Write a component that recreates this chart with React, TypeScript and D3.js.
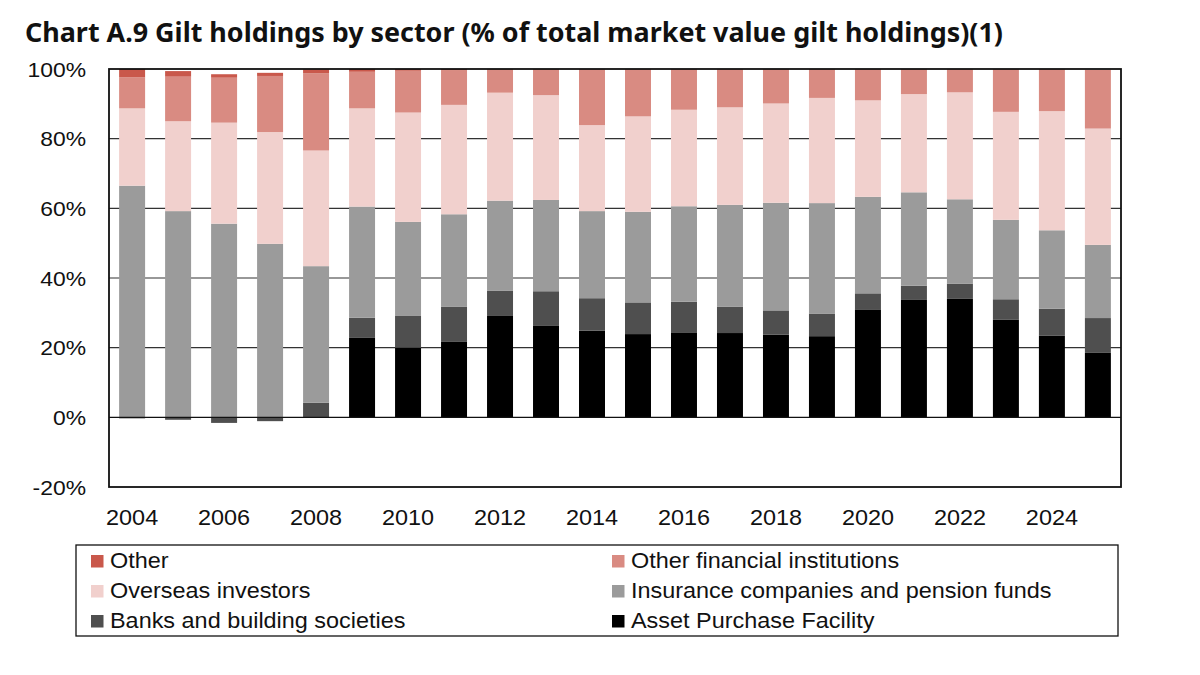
import React from "react";
import * as d3 from "d3";

const years = [2004,2005,2006,2007,2008,2009,2010,2011,2012,2013,2014,2015,2016,2017,2018,2019,2020,2021,2022,2023,2024,2025];
const apf =       [0,0,0,0,0,22.8,20.0,21.8,29.1,26.4,24.9,23.9,24.4,24.2,23.7,23.3,31.0,33.7,34.0,28.1,23.4,18.5];
const banks =     [-0.3,-0.7,-1.6,-1.1,4.2,5.8,9.1,9.9,7.3,9.8,9.3,9.1,8.8,7.6,7.0,6.5,4.6,4.1,4.4,5.8,7.8,10.0];
const insurance = [66.5,59.2,55.6,49.8,39.2,31.9,27.0,26.6,25.8,26.2,25.0,26.0,27.4,29.2,30.9,31.7,27.7,26.8,24.2,22.8,22.5,21.0];
const overseas =  [22.2,25.8,29.0,32.1,33.2,28.2,31.4,31.4,31.0,30.1,24.7,27.4,27.7,28.0,28.5,30.2,27.7,28.2,30.7,31.0,34.2,33.4];
const ofi =       [8.9,12.8,12.9,16.1,22.2,10.5,12.0,10.0,6.6,7.3,16.0,13.6,11.7,11.0,9.9,8.3,9.0,7.2,6.7,12.3,12.1,16.9];
const other =     [2.4,1.6,1.0,0.9,1.1,0.8,0.5,0.3,0.2,0.2,0.1,0,0,0,0,0,0,0,0,0,0,0];

const seriesKeys = ["apf","banks","insurance","overseas","ofi","other"];
const seriesNames: Record<string,string> = {
  other: "Other",
  ofi: "Other financial institutions",
  overseas: "Overseas investors",
  insurance: "Insurance companies and pension funds",
  banks: "Banks and building societies",
  apf: "Asset Purchase Facility",
};
const colors: Record<string,string> = {
  other: "#c9584b",
  ofi: "#d98b82",
  overseas: "#f1d0cd",
  insurance: "#9b9b9b",
  banks: "#4f4f4f",
  apf: "#000000",
};
const legendOrder = ["other","ofi","overseas","insurance","banks","apf"];
const yTicks = [-20,0,20,40,60,80,100];
const xLabelYears = [2004,2006,2008,2010,2012,2014,2016,2018,2020,2022,2024];
const title = "Chart A.9 Gilt holdings by sector (% of total market value gilt holdings)(1)";

const SX = 1.09;

function WideText(props: { x: number; y: number; anchor?: string; size: number; dy?: string; children: React.ReactNode }) {
  const font = "'Liberation Sans', Arial, Helvetica, sans-serif";
  return (
    <g transform={`translate(${props.x},${props.y}) scale(${SX},1)`}>
      <text x={0} y={0} dy={props.dy} textAnchor={props.anchor || "start"} fontFamily={font} fontSize={props.size} fill="#111">
        {props.children}
      </text>
    </g>
  );
}

export default function App() {
  const W = 1200, H = 675;
  const left = 109, right = 1121, top = 69, bottom = 487;

  const rows = years.map((y, i) => ({
    year: y, apf: apf[i], banks: banks[i], insurance: insurance[i],
    overseas: overseas[i], ofi: ofi[i], other: other[i],
  }));
  const stacked = d3.stack<any>().keys(seriesKeys).offset(d3.stackOffsetDiverging)(rows);

  const x = d3.scaleBand<number>().domain(years).range([left, right]).paddingInner(0.435).paddingOuter(0.22);
  const y = d3.scaleLinear().domain([-20, 100]).range([bottom, top]);

  return (
    <div style={{ margin: -8 }}>
      <svg width={W} height={H} style={{ display: "block", background: "#fff" }}>
        <text x={25} y={42} fontFamily="'Noto Sans', 'Open Sans', sans-serif" fontWeight={700} fontSize={26}
          textLength={978} lengthAdjust="spacingAndGlyphs" fill="#111">{title}</text>

        {yTicks.filter(t => t > 0 && t < 100).map(t => (
          <line key={t} x1={left} x2={right} y1={y(t)} y2={y(t)} stroke="#333" strokeWidth={1.2} />
        ))}

        {stacked.map(s => (
          <g key={s.key} fill={colors[s.key]}>
            {s.map((d, i) => {
              const y0 = y(d[0]), y1 = y(d[1]);
              const h = Math.abs(y0 - y1);
              if (h <= 0) return null;
              return <rect key={i} x={x(years[i])} width={x.bandwidth()} y={Math.min(y0, y1)} height={h} />;
            })}
          </g>
        ))}

        <line x1={left} x2={right} y1={y(0)} y2={y(0)} stroke="#111" strokeWidth={1.2} />
        <rect x={left} y={top} width={right - left} height={bottom - top} fill="none" stroke="#111" strokeWidth={1.8} />

        {yTicks.map(t => (
          <WideText key={t} x={86} y={y(t)} dy="0.36em" anchor="end" size={21}>{t}%</WideText>
        ))}

        {xLabelYears.map(yr => (
          <WideText key={yr} x={(x(yr) as number) + x.bandwidth() / 2} y={525} anchor="middle" size={21.5}>{yr}</WideText>
        ))}

        <rect x={76} y={545} width={1042} height={91} fill="none" stroke="#111" strokeWidth={1.3} />
        {legendOrder.map((k, i) => {
          const col = i % 2, row = Math.floor(i / 2);
          const sx = col === 0 ? 91 : 612;
          const by = 568 + row * 30;
          return (
            <g key={k}>
              <rect x={sx} y={by - 13} width={12.5} height={12.5} fill={colors[k]} />
              <WideText x={sx + 19} y={by} size={21.5}>{seriesNames[k]}</WideText>
            </g>
          );
        })}
      </svg>
    </div>
  );
}
